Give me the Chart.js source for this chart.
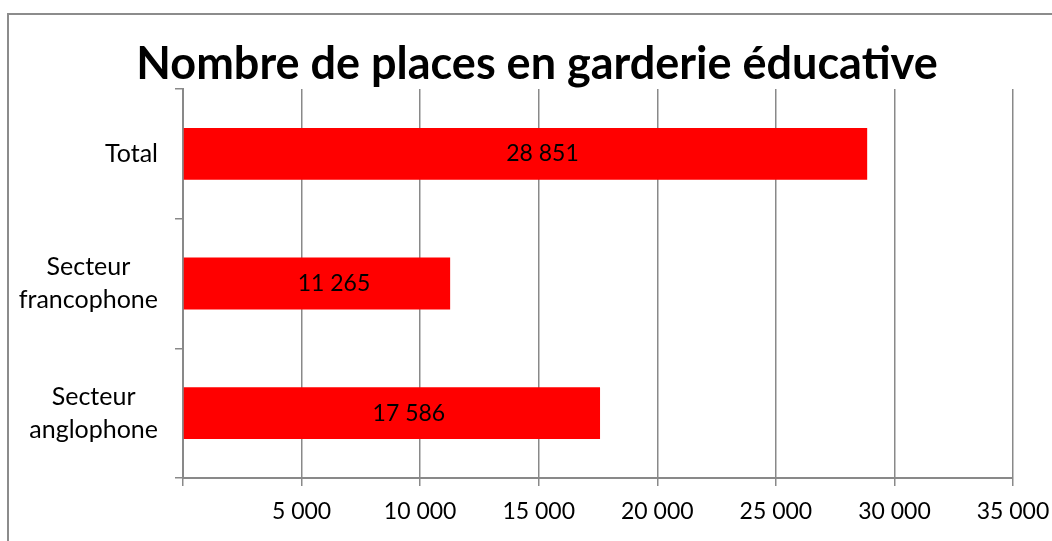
<!DOCTYPE html>
<html>
<head>
<meta charset="utf-8">
<script src="https://cdn.jsdelivr.net/npm/chart.js@4"></script>
<style>
  body { margin: 0; background: #fff; overflow: hidden; }
  #cadre { position: absolute; left: 7px; top: 13px; width: 1100px; height: 600px; border-left: 2px solid #8c8c8c; border-top: 2px solid #8c8c8c; }
  #zone { position: absolute; left: 0; top: 0; width: 1052px; height: 541px; }
</style>
</head>
<body>
<div id="cadre"></div>
<div id="zone"><canvas id="graphique" width="1052" height="541"></canvas></div>
<script>
// Données du graphique
const categories = [['Total'], ['Secteur', 'francophone'], ['Secteur', 'anglophone']];
const valeurs = [28851, 11265, 17586];
const graduations = [0, 5000, 10000, 15000, 20000, 25000, 30000, 35000];
const titre = 'Nombre de places en garderie éducative';

const gris = '#898989';
const police = 'Lato';

// 28851 -> "28 851"
const fmt = v => String(v).replace(/\B(?=(\d{3})+(?!\d))/g, ' ');

// Étiquettes des catégories (lignes centrées entre elles) et valeurs dans les barres
const etiquettes = {
  id: 'etiquettes',
  afterDatasetsDraw(chart) {
    const ctx = chart.ctx;
    const axeY = chart.scales.y;
    ctx.save();
    ctx.fillStyle = '#000';
    ctx.textAlign = 'center';
    ctx.textBaseline = 'middle';

    ctx.font = '23px ' + police;
    chart.getDatasetMeta(0).data.forEach((barre, i) => {
      ctx.fillText(fmt(valeurs[i]), (barre.x + barre.base) / 2 + 17, barre.y);
    });

    ctx.font = '25px ' + police;
    chart.data.labels.forEach((lab, i) => {
      const lignes = Array.isArray(lab) ? lab : [lab];
      const larg = Math.max(...lignes.map(l => ctx.measureText(l).width));
      const cx = axeY.right - 25 - larg / 2;
      const cy = axeY.getPixelForValue(i);
      lignes.forEach((l, k) => {
        ctx.fillText(l, cx, cy + (k - (lignes.length - 1) / 2) * 33);
      });
    });
    ctx.restore();
  }
};

new Chart(document.getElementById('graphique'), {
  type: 'bar',
  data: {
    labels: categories,
    datasets: [{
      data: valeurs,
      backgroundColor: '#ff0000',
      borderWidth: 0,
      barPercentage: 0.4,
      categoryPercentage: 1
    }]
  },
  options: {
    indexAxis: 'y',
    responsive: false,
    animation: false,
    devicePixelRatio: 1,
    layout: { padding: { left: 22, right: 0, top: 0, bottom: 0 } },
    plugins: {
      legend: { display: false },
      tooltip: { enabled: false },
      title: {
        display: true,
        text: titre,
        color: '#000',
        font: { family: police, size: 45, weight: 'bold', lineHeight: 1.1 },
        padding: { top: 39.5, bottom: 0 }
      }
    },
    scales: {
      x: {
        min: 0,
        max: 35000,
        afterBuildTicks: s => { s.ticks = graduations.map(v => ({ value: v })); },
        ticks: {
          callback: v => v === 0 ? '' : fmt(v),
          color: '#000',
          font: { family: police, size: 23 },
          padding: 12,
          maxRotation: 0,
          autoSkip: false
        },
        grid: { color: gris, lineWidth: 1.5, tickLength: 8 },
        border: { color: gris, width: 2 },
        afterFit: s => { s.height = 63; s.paddingRight = 39; }
      },
      y: {
        ticks: { display: false },
        grid: { drawOnChartArea: false, offset: true, tickLength: 8, color: gris, lineWidth: 1.5 },
        border: { color: gris, width: 2 },
        afterFit: s => { s.width = 161; }
      }
    }
  },
  plugins: [etiquettes]
});
</script>
</body>
</html>
